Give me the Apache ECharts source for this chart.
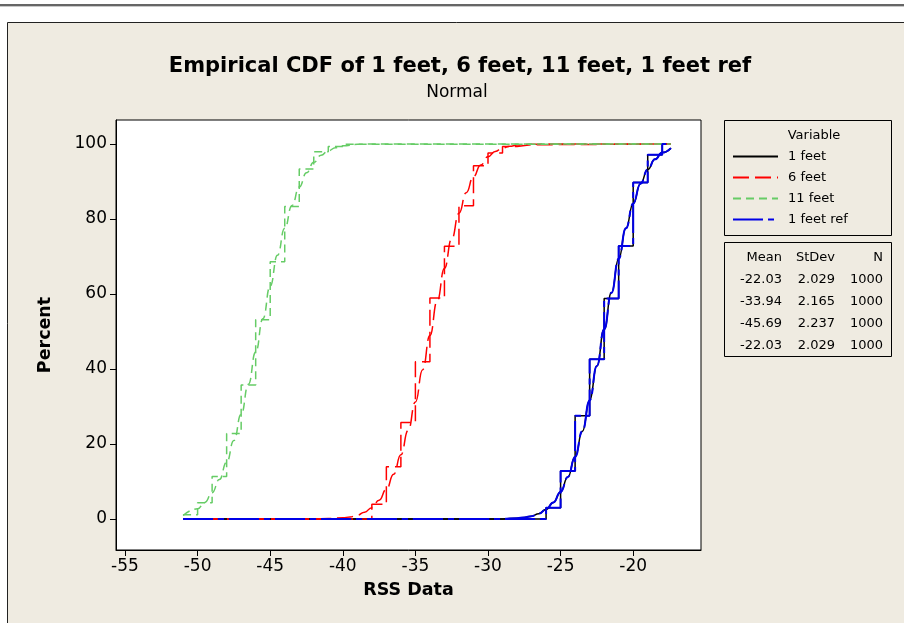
<!DOCTYPE html>
<html>
<head>
<meta charset="utf-8">
<script src="https://cdn.jsdelivr.net/npm/echarts@6/dist/echarts.min.js"></script>
<style>
  html, body { margin: 0; padding: 0; background: #fff; }
  #main { width: 904px; height: 623px; }
</style>
</head>
<body>
<div id="main"></div>
<script>
// variable names, in legend order
var varNames = ['1 feet', '6 feet', '11 feet', '1 feet ref'];

// empirical CDF steps (RSS value, cumulative percent)
var feet1StepX   = [-51, -26, -25, -24, -23, -22, -21, -20, -19, -18, -17.4];
var feet1StepPct = [0, 3.0, 12.8, 27.5, 42.6, 58.8, 72.8, 89.7, 97.1, 100, 100];
var feet6StepX   = [-51, -38, -37, -36, -35, -34, -33, -32, -31, -30, -29, -28, -27, -17.4];
var feet6StepPct = [0, 3.9, 13.9, 25.7, 41.9, 58.9, 72.7, 83.5, 94.2, 97.6, 99.3, 99.8, 100, 100];
var feet11StepX  = [-51, -50, -49, -48, -47, -46, -45, -44, -43, -42, -41, -40, -39, -17.4];
var feet11StepPct = [1.1, 4.3, 11.3, 22.8, 35.7, 53.1, 68.6, 83.3, 93.3, 97.9, 99.3, 99.9, 100, 100];

// fitted normal curves
var feet1FitX   = [-51, -30, -29, -28, -27.5, -27, -26.5, -26, -25.5, -25, -24.5, -24, -23.5, -23, -22.5, -22, -21.5, -21, -20.5, -20, -19.5, -19, -18.5, -18, -17.4];
var feet1FitPct = [0, 0, 0, 0.2, 0.4, 0.7, 1.4, 2.5, 4.4, 7.2, 11.2, 16.6, 23.4, 31.6, 40.8, 50.6, 60.3, 69.4, 77.5, 84.1, 89.4, 93.2, 95.9, 97.7, 98.9];
var feet6FitX   = [-51, -42, -41, -40, -39.5, -39, -38.5, -38, -37.5, -37, -36.5, -36, -35.5, -35, -34.5, -34, -33.5, -33, -32.5, -32, -31.5, -31, -30.5, -30, -29.5, -29, -28.5, -28, -27, -26, -17.4];
var feet6FitPct = [0, 0, 0.1, 0.3, 0.5, 1.0, 1.8, 3.0, 5.0, 7.9, 11.9, 17.1, 23.6, 31.2, 39.8, 48.9, 58.1, 66.8, 74.7, 81.5, 87.0, 91.3, 94.4, 96.6, 98.0, 98.9, 99.4, 99.7, 99.9, 100, 100];
var feet11FitX   = [-51, -50, -49.5, -49, -48.5, -48, -47.5, -47, -46.5, -46, -45.5, -45, -44.5, -44, -43.5, -43, -42.5, -42, -41.5, -41, -40.5, -40, -39, -38, -36, -17.4];
var feet11FitPct = [0.9, 2.7, 4.4, 7.0, 10.5, 15.1, 20.9, 27.9, 35.9, 44.5, 53.4, 62.1, 70.3, 77.5, 83.6, 88.5, 92.3, 95.1, 97.0, 98.2, 99.0, 99.5, 99.9, 100, 100, 100];

// summary table
var statMean  = ['-22.03', '-33.94', '-45.69', '-22.03'];
var statStDev = ['2.029', '2.165', '2.237', '2.029'];
var statN     = ['1000', '1000', '1000', '1000'];

// axis ticks
var xTicks = [-55, -50, -45, -40, -35, -30, -25, -20];
var yTicks = [0, 20, 40, 60, 80, 100];

var FONT = '"DejaVu Sans", Verdana, sans-serif';
var BEIGE = '#EFEBE1';

function pairs(xs, ys) {
    return xs.map(function (x, i) { return [x, ys[i]]; });
}

function stepSeries(name, xs, ys, color, type, width) {
    return {
        name: name, type: 'line', step: 'end',
        data: pairs(xs, ys),
        symbol: 'none', showSymbol: false,
        lineStyle: { color: color, width: width, type: type },
        itemStyle: { color: color },
        emphasis: { disabled: true },
        silent: true
    };
}
function fitSeries(name, xs, ys, color, type, width) {
    return {
        name: name, type: 'line',
        data: pairs(xs, ys),
        smooth: true, smoothMonotone: 'x',
        symbol: 'none', showSymbol: false,
        lineStyle: { color: color, width: width, type: type },
        itemStyle: { color: color },
        emphasis: { disabled: true },
        silent: true
    };
}

var cBlack = '#000000', cRed = '#FF0000', cGreen = '#66CC66', cBlue = '#0000E6';
var dRed = [16, 6], dGreen = [8, 5], dBlue = [30, 5, 6, 5];

// stats table texts
var statTexts = [];
var colRight = [782, 835, 883];
var header = ['Mean', 'StDev', 'N'];
header.forEach(function (h, j) {
    statTexts.push({ type: 'text', x: colRight[j], y: 258,
        style: { text: h, font: '13px ' + FONT, fill: '#000', textAlign: 'right', textVerticalAlign: 'middle' } });
});
for (var i = 0; i < statMean.length; i++) {
    [statMean[i], statStDev[i], statN[i]].forEach(function (t, j) {
        statTexts.push({ type: 'text', x: colRight[j], y: 280 + i * 22,
            style: { text: t, font: '13px ' + FONT, fill: '#000', textAlign: 'right', textVerticalAlign: 'middle' } });
    });
}

var myChart = echarts.init(document.getElementById('main'), null, { renderer: 'canvas' });

var option = {
    backgroundColor: '#ffffff',
    animation: false,
    graphic: [
        { type: 'rect', z: -20, shape: { x: 0, y: 4, width: 904, height: 2 }, style: { fill: '#666' } },
        { type: 'rect', z: -20, shape: { x: 0, y: 6, width: 904, height: 1 }, style: { fill: '#c8c8c8' } },
        { type: 'rect', z: -20, shape: { x: 7.5, y: 22.5, width: 920, height: 620 },
          style: { fill: BEIGE, stroke: '#222', lineWidth: 1 } },
        { type: 'rect', z: -10, shape: { x: 724.5, y: 120.5, width: 167, height: 115 },
          style: { fill: BEIGE, stroke: '#000', lineWidth: 1 } },
        { type: 'rect', z: -10, shape: { x: 724.5, y: 242.5, width: 167, height: 114 },
          style: { fill: BEIGE, stroke: '#000', lineWidth: 1 } },
        { type: 'text', x: 460, y: 67,
          style: { text: 'Empirical CDF of 1 feet, 6 feet, 11 feet, 1 feet ref', font: 'bold 21px ' + FONT,
                   fill: '#000', textAlign: 'center', textVerticalAlign: 'middle' } },
        { type: 'text', x: 457, y: 93,
          style: { text: 'Normal', font: '17px ' + FONT, fill: '#000', textAlign: 'center', textVerticalAlign: 'middle' } },
        { type: 'text', x: 814, y: 136,
          style: { text: 'Variable', font: '13px ' + FONT, fill: '#000', textAlign: 'center', textVerticalAlign: 'middle' } }
    ].concat(statTexts),
    legend: {
        data: varNames,
        orient: 'vertical',
        left: 732, top: 150,
        padding: 0,
        itemWidth: 45, itemHeight: 14, itemGap: 8,
        selectedMode: false,
        itemStyle: { opacity: 0 },
        textStyle: { fontFamily: FONT, fontSize: 13, color: '#000', padding: [0, 0, 0, 5] }
    },
    grid: {
        left: 116, right: 203, top: 120, bottom: 73,
        show: true, backgroundColor: '#ffffff', borderColor: '#000', borderWidth: 1,
        containLabel: false
    },
    xAxis: {
        type: 'value',
        min: -55.62, max: -15.33,
        name: 'RSS Data', nameLocation: 'middle', nameGap: 31,
        nameTextStyle: { fontFamily: FONT, fontSize: 17.5, fontWeight: 'bold', color: '#000' },
        axisLine: { show: true, onZero: false, lineStyle: { color: '#000', width: 1 } },
        axisTick: { show: true, inside: false, length: 6, lineStyle: { color: '#000' }, customValues: xTicks },
        axisLabel: { margin: 8, fontFamily: FONT, fontSize: 17, color: '#000', customValues: xTicks },
        splitLine: { show: false }
    },
    yAxis: {
        type: 'value',
        min: -8.3, max: 106.4,
        name: 'Percent', nameLocation: 'middle', nameGap: 62,
        nameTextStyle: { fontFamily: FONT, fontSize: 17.5, fontWeight: 'bold', color: '#000' },
        axisLine: { show: true, onZero: false, lineStyle: { color: '#000', width: 1 } },
        axisTick: { show: true, inside: false, length: 6, lineStyle: { color: '#000' }, customValues: yTicks },
        axisLabel: { margin: 9, fontFamily: FONT, fontSize: 17, color: '#000', customValues: yTicks },
        splitLine: { show: false }
    },
    series: [
        stepSeries(varNames[0], feet1StepX, feet1StepPct, cBlack, 'solid', 1.5),
        fitSeries(varNames[0], feet1FitX, feet1FitPct, cBlack, 'solid', 1.5),
        stepSeries(varNames[1], feet6StepX, feet6StepPct, cRed, dRed, 1.5),
        fitSeries(varNames[1], feet6FitX, feet6FitPct, cRed, dRed, 1.5),
        stepSeries(varNames[2], feet11StepX, feet11StepPct, cGreen, dGreen, 1.5),
        fitSeries(varNames[2], feet11FitX, feet11FitPct, cGreen, dGreen, 1.5),
        stepSeries(varNames[3], feet1StepX, feet1StepPct, cBlue, dBlue, 2),
        fitSeries(varNames[3], feet1FitX, feet1FitPct, cBlue, dBlue, 2)
    ]
};

myChart.setOption(option);
</script>
</body>
</html>
